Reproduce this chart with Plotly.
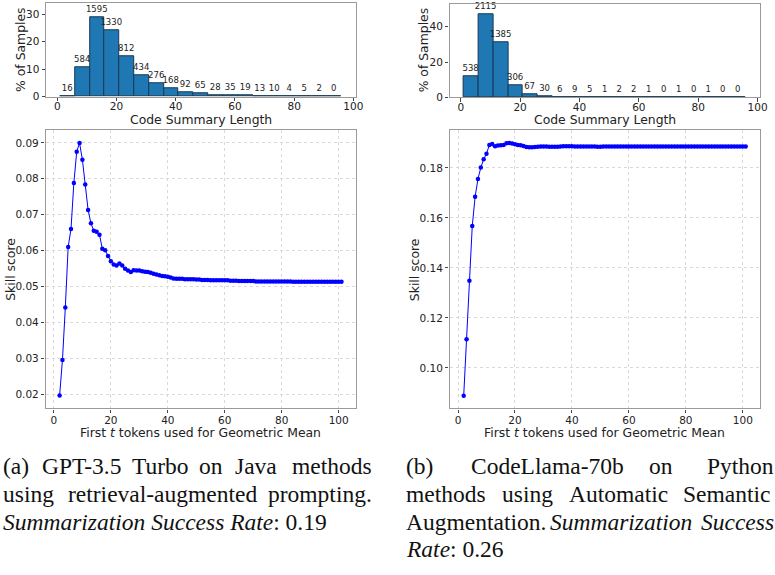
import plotly.graph_objects as go

# ---------------- data ----------------
bin_edges = [1, 6, 11, 16, 21, 26, 31, 36, 41, 46, 51, 56, 61, 66, 71, 76, 81, 86, 91, 96]
counts_java = [16, 584, 1595, 1330, 812, 434, 276, 168, 92, 65, 28, 35, 19, 13, 10, 4, 5, 2, 0]
counts_python = [538, 2115, 1385, 306, 67, 30, 6, 9, 5, 1, 2, 2, 1, 0, 1, 0, 1, 0, 0]

tokens_t = list(range(2, 102))
skill_java = [
    0.0196, 0.0295, 0.0441, 0.0610, 0.0660, 0.0788, 0.0875, 0.0900, 0.0853, 0.0784,
    0.0713, 0.0676, 0.0655, 0.0652, 0.0644, 0.0605, 0.0601, 0.0585, 0.0570, 0.0561,
    0.0558, 0.0564, 0.0558, 0.0549, 0.0544, 0.0540, 0.0545, 0.0544, 0.0544, 0.0542,
    0.0541, 0.0540, 0.0538, 0.0535, 0.0533, 0.0531, 0.0529, 0.0528, 0.0527, 0.0525,
    0.0522, 0.0521, 0.0521, 0.0521, 0.0520, 0.0520, 0.0520, 0.0520, 0.0519, 0.0519,
    0.0518, 0.0518, 0.0518, 0.0517, 0.0517, 0.0517, 0.0517, 0.0517, 0.0517, 0.0517,
    0.0516, 0.0516, 0.0516, 0.0515, 0.0515, 0.0515, 0.0515, 0.0515, 0.0515, 0.0514,
    0.0514, 0.0514, 0.0514, 0.0514, 0.0514, 0.0514, 0.0514, 0.0514, 0.0514, 0.0514,
    0.0514, 0.0514, 0.0513, 0.0513, 0.0513, 0.0513, 0.0513, 0.0513, 0.0513, 0.0513,
    0.0513, 0.0513, 0.0513, 0.0513, 0.0513, 0.0513, 0.0513, 0.0513, 0.0513, 0.0513,
]
skill_python = [
    0.0889, 0.1115, 0.1348, 0.1567, 0.1684, 0.1755, 0.1801, 0.1834, 0.1856, 0.1891,
    0.1895, 0.1886, 0.1889, 0.1890, 0.1891, 0.1898, 0.1899, 0.1897, 0.1894, 0.1891,
    0.1890, 0.1887, 0.1883, 0.1882, 0.1882, 0.1883, 0.1884, 0.1885, 0.1885, 0.1885,
    0.1884, 0.1884, 0.1884, 0.1884, 0.1885, 0.1886, 0.1886, 0.1886, 0.1886, 0.1885,
    0.1885, 0.1885, 0.1885, 0.1885, 0.1885, 0.1885, 0.1885, 0.1884, 0.1884, 0.1885,
    0.1885, 0.1885, 0.1885, 0.1885, 0.1885, 0.1885, 0.1885, 0.1885, 0.1885, 0.1885,
    0.1885, 0.1885, 0.1885, 0.1885, 0.1885, 0.1885, 0.1885, 0.1885, 0.1885, 0.1885,
    0.1885, 0.1885, 0.1885, 0.1885, 0.1885, 0.1885, 0.1885, 0.1885, 0.1885, 0.1885,
    0.1885, 0.1885, 0.1885, 0.1885, 0.1885, 0.1885, 0.1885, 0.1885, 0.1885, 0.1885,
    0.1885, 0.1885, 0.1885, 0.1885, 0.1885, 0.1885, 0.1885, 0.1885, 0.1885, 0.1885,
]

hist_xlabel = "Code Summary Length"
hist_ylabel = "% of Samples"
line_xlabel = "First <i>t</i> tokens used for Geometric Mean"
line_ylabel = "Skill score"

# ---------------- layout helpers ----------------
W, H = 775, 575
def px(x):
    return x / W
def py(y):
    return 1 - y / H

FONT = "DejaVu Sans"
TICKF = dict(family=FONT, size=10.5, color="#222")
TITLE_SIZE = 12.4
BAR_COLOR = "#1f77b4"

centers = [(bin_edges[i] + bin_edges[i + 1]) / 2 for i in range(len(bin_edges) - 1)]
widths = [bin_edges[i + 1] - bin_edges[i] for i in range(len(bin_edges) - 1)]
pct_java = [c / sum(counts_java) * 100 for c in counts_java]
pct_python = [c / sum(counts_python) * 100 for c in counts_python]

fig = go.Figure()

def add_hist(pct, cnt, xa, ya):
    fig.add_trace(go.Bar(
        x=centers, y=pct, width=widths, text=[str(c) for c in cnt],
        textposition="outside", cliponaxis=False, constraintext="none",
        textfont=dict(family=FONT, size=8.5, color="#222"),
        marker=dict(color=BAR_COLOR, line=dict(color="#173a55", width=1)),
        xaxis=xa, yaxis=ya, showlegend=False, hoverinfo="skip",
    ))

def add_line(vals, xa, ya):
    fig.add_trace(go.Scatter(
        x=tokens_t, y=vals, mode="lines+markers",
        line=dict(color="#0000ff", width=1),
        marker=dict(color="#0000ff", size=4.5),
        xaxis=xa, yaxis=ya, showlegend=False, hoverinfo="skip",
    ))

add_hist(pct_java, counts_java, "x", "y")
add_hist(pct_python, counts_python, "x2", "y2")
add_line(skill_java, "x3", "y3")
add_line(skill_python, "x4", "y4")

frame = dict(showline=True, mirror=True, linecolor="#9a9a9a", linewidth=1.3,
             ticks="outside", ticklen=3.5, tickcolor="#444", tickfont=TICKF,
             zeroline=False)

hist_x = dict(frame, range=[-3.75, 100.75], tickvals=[0, 20, 40, 60, 80, 100], showgrid=False,
              ticklabelstandoff=-4)
line_x = dict(frame, range=[-2.95, 105.95], tickvals=[0, 20, 40, 60, 80, 100],
              showgrid=True, gridcolor="#d9d9d9", griddash="dot", gridwidth=1,
              ticklabelstandoff=-2)

fig.update_layout(
    width=W, height=H, margin=dict(l=0, r=0, t=0, b=0),
    paper_bgcolor="white", plot_bgcolor="white", bargap=0,
    xaxis=dict(hist_x, domain=[px(46.7), px(359.3)], anchor="y"),
    yaxis=dict(frame, domain=[py(97.7), py(3.3)], range=[0, 34], tickvals=[0, 10, 20, 30],
               showgrid=False, anchor="x"),
    xaxis2=dict(hist_x, domain=[px(454.3), px(767.7)], anchor="y2"),
    yaxis2=dict(frame, domain=[py(98.3), py(4.3)], range=[0, 52.8], tickvals=[0, 20, 40],
                showgrid=False, anchor="x2"),
    xaxis3=dict(line_x, domain=[px(46), px(359.3)], anchor="y3"),
    yaxis3=dict(frame, domain=[py(412.7), py(131.7)], range=[0.0160, 0.0935],
                tickvals=[0.02, 0.03, 0.04, 0.05, 0.06, 0.07, 0.08, 0.09], tickformat=".2f",
                showgrid=True, gridcolor="#d9d9d9", griddash="dot", anchor="x3"),
    xaxis4=dict(line_x, domain=[px(454.3), px(767.7)], anchor="y4"),
    yaxis4=dict(frame, domain=[py(412.7), py(131.7)], range=[0.0838, 0.1950],
                tickvals=[0.10, 0.12, 0.14, 0.16, 0.18], tickformat=".2f",
                showgrid=True, gridcolor="#d9d9d9", griddash="dot", anchor="x4"),
)

ann = []
def label(text, x, y, size, angle=0, xanchor="center", family=FONT):
    ann.append(dict(text=text, x=px(x), y=py(y), xref="paper", yref="paper",
                    showarrow=False, textangle=angle, xanchor=xanchor, yanchor="middle",
                    font=dict(family=family, size=size, color="#222")))

# axis titles
label(hist_xlabel, 203, 121, TITLE_SIZE)
label(hist_xlabel, 611, 121, TITLE_SIZE)
label(hist_ylabel, 20.7, 50, TITLE_SIZE, angle=-90)
label(hist_ylabel, 428.3, 50, TITLE_SIZE, angle=-90)
label(line_xlabel, 203, 437, TITLE_SIZE)
label(line_xlabel, 611, 437, TITLE_SIZE)
label(line_ylabel, 10.7, 272, TITLE_SIZE, angle=-90)
label(line_ylabel, 418.3, 272, TITLE_SIZE, angle=-90)

# captions (justified lines are set word by word)
CF = "Liberation Serif"
CS = 23.5
def cap(text, x, y, anchor="left"):
    ann.append(dict(text=text, x=px(x), y=py(y), xref="paper", yref="paper",
                    showarrow=False, xanchor=anchor, yanchor="middle", borderpad=0,
                    borderwidth=0, font=dict(family=CF, size=CS, color="#111")))

L1, L2, L3, L4 = 471, 499, 527, 555
RA = 376
cap("(a)", 3, L1)
cap("GPT-3.5", 42, L1)
cap("Turbo", 133, L1)
cap("on", 201, L1)
cap("Java", 237, L1)
cap("methods", RA, L1, "right")
cap("using", 3, L2)
cap("retrieval-augmented", 69, L2)
cap("prompting.", RA, L2, "right")
cap("<i>Summarization Success Rate</i>: 0.19", 3, L3)

cap("(b)", 410, L1)
cap("CodeLlama-70b", 476, L1)
cap("on", 656, L1)
cap("Python", 714, L1)
cap("methods", 410, L2)
cap("using", 507, L2)
cap("Automatic", 575, L2)
cap("Semantic", 690, L2)
cap("Augmentation.", 410, L3)
cap("<i>Summarization</i>", 556, L3)
cap("<i>Success</i>", 708, L3)
cap("<i>Rate</i>: 0.26", 410, L4)

fig.update_layout(annotations=ann)
fig.write_html("out.html", config={"displayModeBar": False},
               post_script="document.body.style.margin='0px';document.body.style.padding='0px';")
